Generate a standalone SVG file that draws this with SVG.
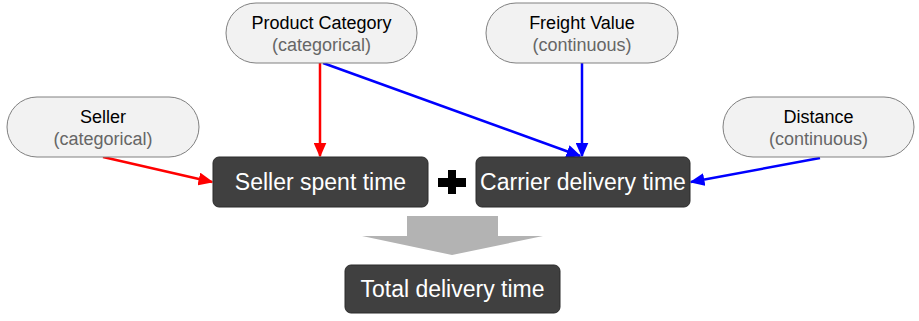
<svg xmlns="http://www.w3.org/2000/svg" width="919" height="321" viewBox="0 0 919 321">
<style>
.pill{fill:#f2f2f2;stroke:#808080;stroke-width:1}
.box{fill:#404040;stroke:#2a2a2a;stroke-width:1}
.t{font-family:"Liberation Sans",Arial,sans-serif;font-size:18px;fill:#000;text-anchor:middle}
.s{font-family:"Liberation Sans",Arial,sans-serif;font-size:18px;fill:#666;text-anchor:middle}
.w{font-family:"Liberation Sans",Arial,sans-serif;font-size:23px;fill:#fff;text-anchor:middle}
.red{stroke:#ff0000;stroke-width:2.5;fill:none;marker-end:url(#ar)}
.blue{stroke:#0000ff;stroke-width:2.5;fill:none;marker-end:url(#ab)}
</style>
<defs>
<marker id="ar" viewBox="0 0 10 10" refX="9" refY="5" markerWidth="6" markerHeight="5.2" markerUnits="strokeWidth" orient="auto" preserveAspectRatio="none"><path d="M0,0 L10,5 L0,10 z" fill="#ff0000"/></marker>
<marker id="ab" viewBox="0 0 10 10" refX="9" refY="5" markerWidth="6" markerHeight="5.2" markerUnits="strokeWidth" orient="auto" preserveAspectRatio="none"><path d="M0,0 L10,5 L0,10 z" fill="#0000ff"/></marker>
</defs>
<rect width="919" height="321" fill="#fff"/>
<g id="connectors">
<line class="red" x1="103" y1="157" x2="212" y2="182"/>
<line class="red" x1="320" y1="63" x2="320" y2="156"/>
<line class="blue" x1="323" y1="63" x2="580" y2="156"/>
<line class="blue" x1="582" y1="63" x2="582" y2="156"/>
<line class="blue" x1="820" y1="158" x2="691" y2="182"/>
</g>
<g id="seller">
<rect class="pill" x="7" y="97" width="192" height="60" rx="30"/>
<text class="t" x="103" y="123">Seller</text>
<text class="s" x="103" y="145">(categorical)</text>
</g>
<g id="product-category">
<rect class="pill" x="226" y="3" width="191" height="60" rx="30"/>
<text class="t" x="321.5" y="29">Product Category</text>
<text class="s" x="321.5" y="51">(categorical)</text>
</g>
<g id="freight-value">
<rect class="pill" x="486" y="3" width="192" height="60" rx="30"/>
<text class="t" x="582" y="29">Freight Value</text>
<text class="s" x="582" y="51">(continuous)</text>
</g>
<g id="distance">
<rect class="pill" x="723" y="97" width="191" height="60" rx="30"/>
<text class="t" x="818.5" y="123">Distance</text>
<text class="s" x="818.5" y="145">(continuous)</text>
</g>
<g id="seller-spent-time">
<rect class="box" x="213" y="157" width="215" height="50" rx="6"/>
<text class="w" x="320.5" y="190">Seller spent time</text>
</g>
<g id="plus">
<path d="M448,170 h8 v8 h10 v9 h-10 v7 h-8 v-7 h-10 v-9 h10 z" fill="#000"/>
</g>
<g id="carrier-delivery-time">
<rect class="box" x="476" y="157" width="214" height="50" rx="6"/>
<text class="w" x="583" y="190">Carrier delivery time</text>
</g>
<g id="big-arrow">
<path d="M407,216 H498 V236 H543 L452,255 L362,236 H407 Z" fill="#b3b3b3"/>
</g>
<g id="total-delivery-time">
<rect class="box" x="345" y="265" width="215" height="48" rx="6"/>
<text class="w" x="452.5" y="297">Total delivery time</text>
</g>
</svg>
